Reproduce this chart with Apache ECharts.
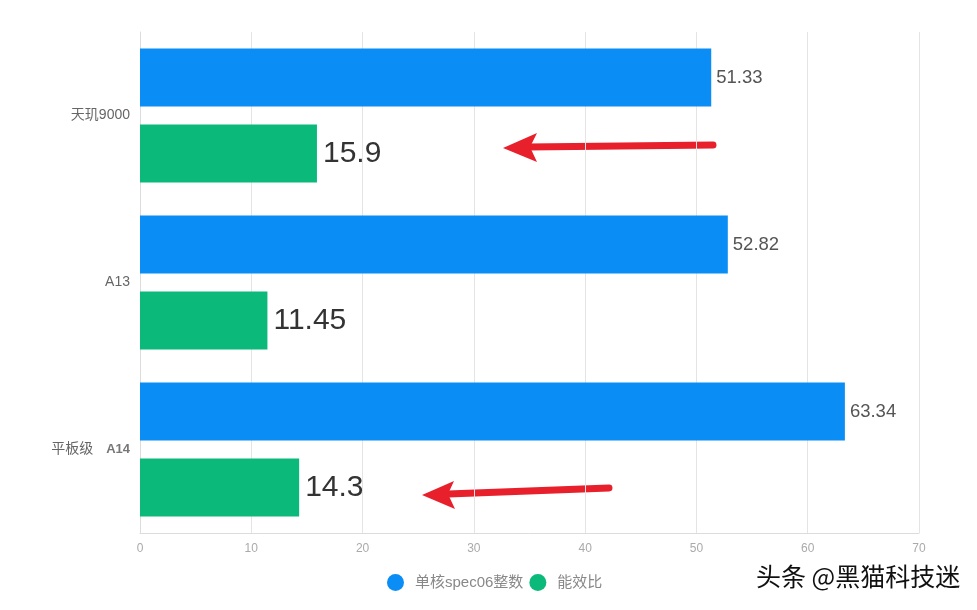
<!DOCTYPE html>
<html>
<head>
<meta charset="utf-8">
<script src="https://cdn.jsdelivr.net/npm/echarts@6/dist/echarts.min.js"></script>
<style>
html,body{margin:0;padding:0;background:#fff;}
#main{width:977px;height:610px;}
</style>
</head>
<body>
<div id="main"></div>
<script>
var categories = ['天玑9000', 'A13', '平板级 A14'];
var seriesNames = ['单核spec06整数', '能效比'];
var specInt = [51.33, 52.82, 63.34];
var efficiency = [15.9, 11.45, 14.3];
var xMin = 0, xMax = 70, xInterval = 10;

var chart = echarts.init(document.getElementById('main'));
var FONT = '"Liberation Sans", Arial, "Noto Sans CJK SC", sans-serif';

chart.setOption({
  animation: false,
  textStyle: { fontFamily: FONT },
  grid: { left: 140, right: 58, top: 32, bottom: 77, containLabel: false },
  legend: {
    left: 382, top: 569,
    icon: 'circle', itemWidth: 17, itemHeight: 17, itemGap: 6,
    textStyle: { color: '#888', fontSize: 15, padding: [0, 0, 0, 6], fontFamily: FONT },
    data: seriesNames
  },
  xAxis: {
    type: 'value', min: xMin, max: xMax, interval: xInterval,
    axisLine: { show: true, lineStyle: { color: '#dcdcdc', width: 1 } },
    axisTick: { show: false },
    splitLine: { show: true, lineStyle: { color: '#e4e4e4', width: 1 } },
    axisLabel: { color: '#aaa', fontSize: 12, margin: 10 }
  },
  yAxis: {
    type: 'category', inverse: true, data: categories,
    axisLine: { show: true, lineStyle: { color: '#dcdcdc', width: 1 } },
    axisTick: { show: false },
    axisLabel: {
      color: '#666', fontSize: 14, margin: 10,
      formatter: function (v) {
        if (v.indexOf(' ') >= 0) {
          var p = v.split(' ');
          return '{a|' + p[0] + '}{b|' + p[1] + '}';
        }
        return v;
      },
      rich: {
        a: { fontSize: 14, color: '#666', padding: [0, 13, 0, 0] },
        b: { fontSize: 13, color: '#777', fontWeight: 'bold' }
      }
    }
  },
  series: [
    {
      name: seriesNames[0], type: 'bar', data: specInt,
      barWidth: 58, barGap: '31%',
      itemStyle: { color: '#0a8ef5' },
      label: { show: true, position: 'right', distance: 5, color: '#555', fontSize: 18.5 }
    },
    {
      name: seriesNames[1], type: 'bar', data: efficiency,
      barWidth: 58,
      itemStyle: { color: '#0bb97b' },
      label: { show: true, position: 'right', distance: 6, color: '#333', fontSize: 30 }
    }
  ],
  graphic: [
    { type: 'polyline', shape: { points: [[713, 145], [528, 147]] },
      style: { stroke: '#e8202c', lineWidth: 7, lineCap: 'round' } },
    { type: 'polygon', shape: { points: [[503, 148], [537, 133], [530, 147], [537, 162]] },
      style: { fill: '#e8202c' } },
    { type: 'polyline', shape: { points: [[609, 488], [448, 494]] },
      style: { stroke: '#e8202c', lineWidth: 7, lineCap: 'round' } },
    { type: 'polygon', shape: { points: [[422, 495], [454, 481], [448, 494], [455, 509]] },
      style: { fill: '#e8202c' } },
    { type: 'text', left: 755, top: 563,
      style: { text: '头条 @黑猫科技迷', fontSize: 25, fill: '#111', stroke: '#fff', lineWidth: 2,
        fontFamily: '"Noto Sans CJK SC", sans-serif' } }
  ]
});
</script>
</body>
</html>
